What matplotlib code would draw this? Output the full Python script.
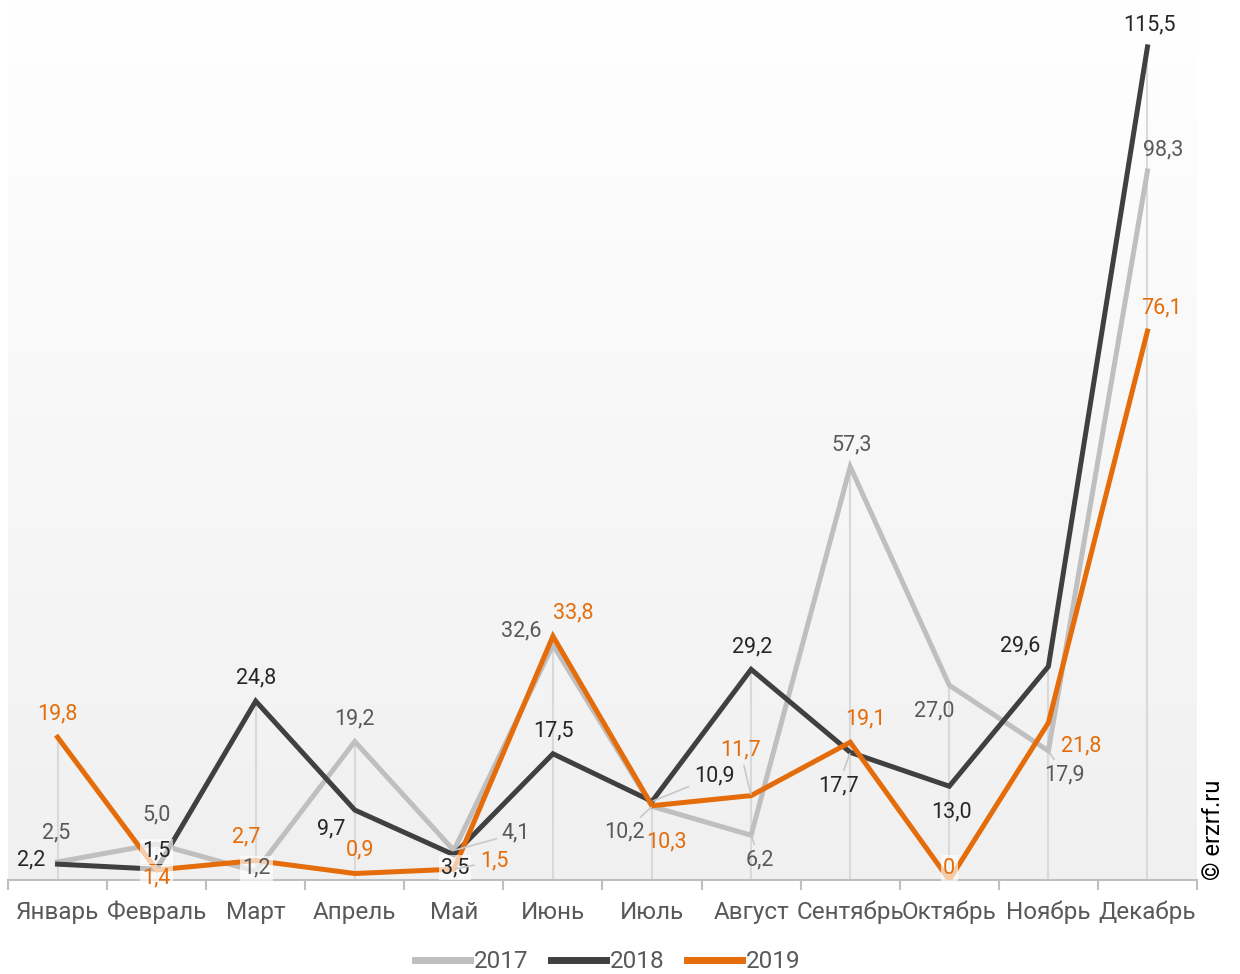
import numpy as np
import matplotlib.pyplot as plt

plt.rcParams['font.family'] = ['Roboto', 'DejaVu Sans']

months = ['Январь', 'Февраль', 'Март', 'Апрель', 'Май', 'Июнь',
          'Июль', 'Август', 'Сентябрь', 'Октябрь', 'Ноябрь', 'Декабрь']
years = ['2017', '2018', '2019']
vals_2017 = [2.5, 5.0, 1.2, 19.2, 4.1, 32.6, 10.2, 6.2, 57.3, 27.0, 17.9, 98.3]
vals_2018 = [2.2, 1.5, 24.8, 9.7, 3.5, 17.5, 10.9, 29.2, 17.7, 13.0, 29.6, 115.5]
vals_2019 = [19.8, 1.4, 2.7, 0.9, 1.5, 33.8, 10.3, 11.7, 19.1, 0, 21.8, 76.1]

line_colors = ['#bfbfbf', '#404040', '#e46c0a']
text_colors = ['#595959', '#262626', '#e46c0a']

# label offsets in pixels (dx, dy) and whether a leader line is drawn
offs = [
    [(-1, 29), (0, 29), (1, 3), (0, 23), (62, 17), (-32, 14),
     (-28, -26), (9, -25), (1, 22), (-15, -26), (16, -24), (16, 21)],
    [(-26, 4), (0, 18), (0, 23), (-24, -19), (1, -13), (0, 23),
     (62, 25), (1, 22), (-12, -34), (2, -26), (-28, 21), (2, 22)],
    [(0, 23), (0, -8), (-10, 24), (5, 24), (40, 8), (20, 23),
     (14, -36), (-11, 46), (15, 23), (0, 12), (33, -23), (14, 23)],
]
leaders = [
    [0, 0, 0, 0, 1, 0, 1, 1, 0, 0, 1, 0],
    [0, 0, 0, 0, 0, 0, 1, 0, 1, 0, 0, 0],
    [0, 0, 0, 0, 1, 0, 0, 1, 0, 0, 0, 0],
]
boxed = [
    [0, 0, 1, 0, 0, 0, 0, 0, 0, 0, 0, 0],
    [0, 1, 0, 0, 1, 0, 0, 0, 0, 0, 0, 0],
    [0, 1, 0, 0, 0, 0, 0, 0, 0, 1, 0, 0],
]

fig = plt.figure(figsize=(12.4, 9.74), dpi=100)
ax = fig.add_axes([8 / 1240, 1 - 880 / 974, 1189 / 1240, 880 / 974])
x = np.arange(len(months))
ax.set_xlim(-0.5, len(months) - 0.5)
ax.set_ylim(0, 122)

# soft vertical gradient behind the plot
grad = np.linspace(1, 0, 256).reshape(-1, 1)
ax.imshow(grad, extent=[-0.5, len(months) - 0.5, 0, 122], aspect='auto',
          cmap=plt.matplotlib.colors.LinearSegmentedColormap.from_list(
              'bg', ['#f0f0f0', '#ffffff']), zorder=0)

series = [vals_2017, vals_2018, vals_2019]
tops = np.max(np.array(series), axis=0)
ax.vlines(x, 0, tops, color='#d9d9d9', lw=1.5, zorder=1)

for i, vals in enumerate(series):
    ax.plot(x, vals, color=line_colors[i], lw=3.6, label=years[i],
            solid_joinstyle='miter', zorder=2 + i)

for i, vals in enumerate(series):
    for j, v in enumerate(vals):
        txt = '0' if v == 0 else f'{v:.1f}'.replace('.', ',')
        kw = {}
        if boxed[i][j]:
            kw['bbox'] = dict(boxstyle='square,pad=0.1', fc='white', ec='none', alpha=0.65)
        if leaders[i][j]:
            kw['arrowprops'] = dict(arrowstyle='-', color='#c8c8c8', lw=1.2,
                                    shrinkA=2, shrinkB=1)
        ax.annotate(txt, (x[j], v), xytext=offs[i][j], textcoords='offset pixels',
                    ha='center', va='center', fontsize=15.5, color=text_colors[i],
                    zorder=10, **kw)

for s in ['top', 'right', 'left']:
    ax.spines[s].set_visible(False)
ax.spines['bottom'].set_color('#bfbfbf')
ax.spines['bottom'].set_linewidth(1.5)
ax.set_yticks([])
ax.set_xticks(np.arange(-0.5, len(months), 1))
ax.set_xticklabels([])
ax.set_xticks(x, minor=True)
ax.set_xticklabels(months, minor=True, fontsize=17.5, color='#595959')
ax.tick_params(axis='x', which='major', length=7, width=1.5, color='#bfbfbf')
ax.tick_params(axis='x', which='minor', length=0, pad=15)

fig.legend(loc='center', bbox_to_anchor=(0.49, 1 - 962 / 974), ncol=3, frameon=False,
           fontsize=17.5, handlelength=2.25, handletextpad=0.15, columnspacing=0.95,
           labelcolor='#595959', borderpad=0)
for h in fig.legends[0].get_lines():
    h.set_linewidth(5)

fig.text(1213 / 1240, 1 - 830 / 974, '© erzrf.ru', rotation=90, fontsize=17,
         ha='center', va='center', color='black')

fig.savefig('out.png', dpi=100)
